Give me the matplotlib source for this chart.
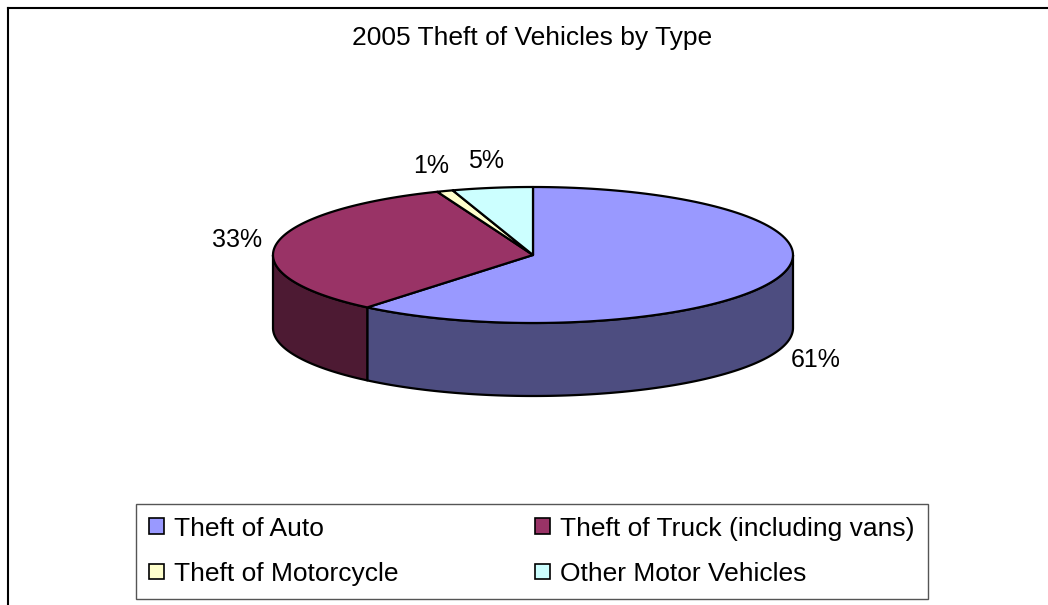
import numpy as np
import matplotlib.pyplot as plt
from matplotlib.patches import Polygon, Rectangle
from matplotlib.lines import Line2D

plt.rcParams['font.family'] = ['Liberation Sans', 'DejaVu Sans']

title = "2005 Theft of Vehicles by Type"
categories = ["Theft of Auto", "Theft of Truck (including vans)",
              "Theft of Motorcycle", "Other Motor Vehicles"]
shares = [61, 33, 1, 5]
labels = ["61%", "33%", "1%", "5%"]
top_colors = ["#9999FF", "#993366", "#FFFFCC", "#CCFFFF"]
side_colors = ["#4D4D80", "#4D1A33", "#80805F", "#668080"]

# pie geometry in pixel units
cx, cy = 533, 255
rx, ry = 260, 68
depth = 73

fig = plt.figure(figsize=(10.48, 6.05), dpi=100)
ax = fig.add_axes([0, 0, 1, 1])
ax.set_xlim(0, 1048)
ax.set_ylim(605, 0)
ax.axis("off")


def arc(a, b, dy=0, n=120):
    t = np.radians(np.linspace(a, b, n))
    return np.column_stack([cx + rx * np.cos(t), cy - ry * np.sin(t) + dy])


frac = np.array(shares) / np.sum(shares)
cum = np.concatenate([[0], np.cumsum(frac)])
spans = [(90 - cum[i + 1] * 360, 90 - cum[i] * 360) for i in range(len(shares))]

# side walls (front half only)
for (a, b), col in zip(spans, side_colors):
    for lo, hi in [(-180, 0), (180, 360)]:
        s, e = max(a, lo), min(b, hi)
        if e > s:
            top = arc(s, e)
            bot = arc(e, s, dy=depth)
            ax.add_patch(Polygon(np.vstack([top, bot]), closed=True,
                                 facecolor=col, edgecolor="black", lw=1.6,
                                 joinstyle="round"))

# top faces
for (a, b), col in zip(spans, top_colors):
    pts = np.vstack([[cx, cy], arc(a, b)])
    ax.add_patch(Polygon(pts, closed=True, facecolor=col, edgecolor="black",
                         lw=1.6, joinstyle="round"))

# data labels
for (a, b), lab in zip(spans, labels):
    m = np.radians((a + b) / 2)
    x = cx + 300 * np.cos(m)
    y = cy - 95 * np.sin(m)
    if np.sin(m) < 0:
        y += depth
    ax.text(x, y, lab, ha="center", va="center", fontsize=18, color="black")

# title
ax.text(532, 38, title, ha="center", va="center", fontsize=19, color="black")

# outer chart frame (cut off at right and bottom)
ax.add_line(Line2D([7.5, 7.5], [605, 8], color="black", lw=1.5))
ax.add_line(Line2D([7.5, 1048], [8, 8], color="black", lw=1.5))

handles = [Rectangle((0, 0), 1, 1, facecolor=c, edgecolor="black", lw=1.2)
           for c in top_colors]
# legend fills columns first, so reorder to read row by row
order = [0, 2, 1, 3]
leg = ax.legend([handles[i] for i in order], [categories[i] for i in order],
                ncol=2, mode="expand", loc="lower left",
                bbox_to_anchor=(136 / 1048, 1 - 599 / 605, 792 / 1048, 96 / 605),
                bbox_transform=fig.transFigure, borderaxespad=0,
                fontsize=19, handlelength=0.55, handleheight=0.55,
                handletextpad=0.4, labelspacing=0.8, borderpad=0.5,
                fancybox=False, frameon=True, framealpha=1)
leg.get_frame().set_edgecolor("#555555")
leg.get_frame().set_linewidth(1.0)

fig.savefig("out.png", dpi=100)
